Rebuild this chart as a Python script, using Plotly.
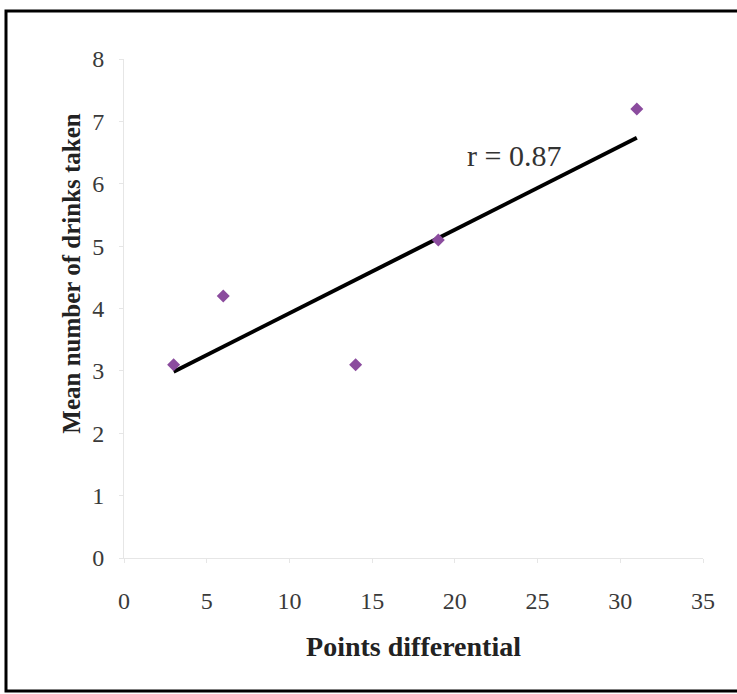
import numpy as np
import plotly.graph_objects as go

# Observed data
points_diff = [3, 6, 14, 19, 31]
mean_drinks = [3.1, 4.2, 3.1, 5.1, 7.2]

x_ticks = [0, 5, 10, 15, 20, 25, 30, 35]
y_ticks = [0, 1, 2, 3, 4, 5, 6, 7, 8]

# Least-squares trend line and correlation
x = np.array(points_diff, dtype=float)
y = np.array(mean_drinks, dtype=float)
slope, intercept = np.polyfit(x, y, 1)
r = np.corrcoef(x, y)[0, 1]
fit_x = [x.min(), x.max()]
fit_y = [slope * v + intercept for v in fit_x]

FONT = "Liberation Serif, Times New Roman, serif"

fig = go.Figure()
fig.add_trace(go.Scatter(
    x=fit_x, y=fit_y, mode="lines",
    line=dict(color="black", width=4),
    showlegend=False, hoverinfo="skip",
))
fig.add_trace(go.Scatter(
    x=points_diff, y=mean_drinks, mode="markers",
    marker=dict(symbol="diamond", size=10, color="#8b4c9e"),
    showlegend=False,
))

fig.add_annotation(
    x=23.6, y=6.46, xref="x", yref="y",
    text=f"r = {r:.2f}", showarrow=False,
    font=dict(family=FONT, size=30, color="#333333"),
)

# Rotated y-axis title
fig.add_annotation(
    x=-0.119, y=0.571, xref="paper", yref="paper",
    text="<b>Mean number of drinks taken</b>", showarrow=False,
    textangle=-90,
    font=dict(family=FONT, size=25, color="#222222"),
)

# Outer frame around the whole chart
fig.add_shape(
    type="rect", xref="paper", yref="paper",
    x0=-0.2038, x1=1.066, y0=-0.2665, y1=1.0962,
    line=dict(color="black", width=3), layer="above",
)

fig.update_layout(
    width=737, height=694,
    margin=dict(l=124, r=34, t=59, b=136),
    paper_bgcolor="white", plot_bgcolor="white",
    font=dict(family=FONT, color="#333333"),
    xaxis=dict(
        range=[0, 35], tickvals=x_ticks, showgrid=False, zeroline=False,
        showline=True, linecolor="#e6e6e6", linewidth=1,
        ticks="outside", ticklen=4, tickcolor="#e6e6e6",
        tickfont=dict(family=FONT, size=24, color="#3a3a3a"),
        ticklabelstandoff=17,
        title=dict(text="<b>Points differential</b>", standoff=23,
                   font=dict(family=FONT, size=28, color="#222222")),
    ),
    yaxis=dict(
        range=[0, 8], tickvals=y_ticks, showgrid=False, zeroline=False,
        showline=True, linecolor="#e6e6e6", linewidth=1,
        ticks="outside", ticklen=4, tickcolor="#e6e6e6",
        tickfont=dict(family=FONT, size=24, color="#3a3a3a"),
        ticklabelstandoff=10,
    ),
)

fig.write_html("out.html")
